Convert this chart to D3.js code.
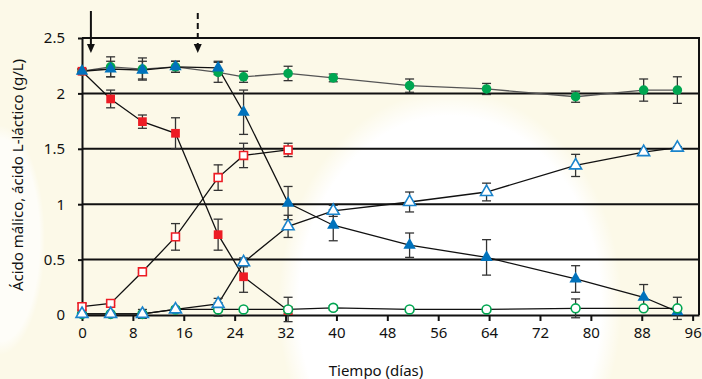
<!DOCTYPE html>
<html>
<head>
<meta charset="utf-8">
<script src="https://cdn.jsdelivr.net/npm/d3@7"></script>
<style>
  html, body { margin: 0; padding: 0; background: #fcf9e8; }
  #chart { width: 702px; height: 379px; }
  text { font-family: "Noto Sans", "DejaVu Sans", sans-serif; fill: #111; }
</style>
</head>
<body>
<div id="chart"></div>
<script>
// sampling days
const days = [0, 4.5, 9.5, 14.7, 21.4, 25.4, 32.4, 39.5, 51.5, 63.6, 77.6, 88.3, 93.6];

// malic / lactic acid (g/L), each with its error
const greenFilled = [2.2, 2.24, 2.22, 2.24, 2.19, 2.15, 2.18, 2.14, 2.07, 2.04, 1.97, 2.03, 2.03];
const greenFilledErr = [0.02, 0.09, 0.1, 0.05, 0.09, 0.05, 0.065, 0.035, 0.06, 0.05, 0.05, 0.1, 0.12];

const blueFilled = [2.2, 2.22, 2.21, 2.24, 2.23, 1.83, 1.01, 0.81, 0.63, 0.52, 0.325, 0.16, 0.03];
const blueFilledErr = [0.02, 0.07, 0.08, 0.05, 0.06, 0.2, 0.15, 0.14, 0.11, 0.16, 0.12, 0.115, 0.02];

const redFilled = [2.2, 1.95, 1.745, 1.64, 0.725, 0.345, 0.04];
const redFilledErr = [0.02, 0.08, 0.06, 0.14, 0.14, 0.14, 0.03];

const redOpen = [0.075, 0.105, 0.39, 0.705, 1.24, 1.44, 1.49];
const redOpenErr = [0.03, 0.02, 0.01, 0.12, 0.115, 0.11, 0.06];

const blueOpen = [0.01, 0.01, 0.01, 0.05, 0.1, 0.475, 0.8, 0.94, 1.02, 1.11, 1.35, 1.47, 1.51];
const blueOpenErr = [0.01, 0.01, 0.04, 0.02, 0.05, 0.04, 0.1, 0.05, 0.09, 0.08, 0.1, 0.02, 0.01];

const greenOpen = [0.01, 0.01, 0.01, 0.05, 0.05, 0.05, 0.05, 0.065, 0.05, 0.05, 0.06, 0.06, 0.06];
const greenOpenErr = [0.01, 0.01, 0.02, 0.02, 0.06, 0.01, 0.11, 0.02, 0.01, 0.01, 0.085, 0.01, 0.1];

// arrows above the plot (days)
const arrowDays = [1.4, 18.2];

const xTicks = [0, 8, 16, 24, 32, 40, 48, 56, 64, 72, 80, 88, 96];
const yTicks = [0, 0.5, 1, 1.5, 2, 2.5];

const width = 702, height = 379;
const plotL = 82, plotR = 699, plotT = 38, plotB = 315;

const svg = d3.select('#chart').append('svg')
  .attr('width', width)
  .attr('height', height);

// background with soft white glow
const defs = svg.append('defs');
const glow = defs.append('radialGradient').attr('id', 'glow');
glow.append('stop').attr('offset', '0%').attr('stop-color', '#fff').attr('stop-opacity', 1);
glow.append('stop').attr('offset', '88%').attr('stop-color', '#fff').attr('stop-opacity', 1);
glow.append('stop').attr('offset', '100%').attr('stop-color', '#fff').attr('stop-opacity', 0);

svg.append('rect').attr('width', width).attr('height', height).attr('fill', '#fcf9e8');
svg.append('ellipse')
  .attr('cx', 450).attr('cy', 305).attr('rx', 172).attr('ry', 215)
  .attr('fill', 'url(#glow)');
svg.append('ellipse')
  .attr('cx', 0).attr('cy', 240).attr('rx', 45).attr('ry', 115)
  .attr('fill', 'url(#glow)').attr('opacity', 0.7);

const x = d3.scaleLinear().domain([0, 97]).range([plotL, plotR]);
const y = d3.scaleLinear().domain([0, 2.5]).range([plotB, plotT]);

// gridlines
svg.append('g').selectAll('line')
  .data(yTicks.filter(d => d > 0))
  .enter().append('line')
  .attr('x1', plotL).attr('x2', plotR)
  .attr('y1', d => y(d)).attr('y2', d => y(d))
  .attr('stroke', '#111').attr('stroke-width', 2);

// right frame
svg.append('line')
  .attr('x1', plotR).attr('x2', plotR).attr('y1', plotT - 1).attr('y2', plotB)
  .attr('stroke', '#111').attr('stroke-width', 2);

const xAxis = svg.append('g')
  .attr('transform', `translate(0, ${plotB})`)
  .call(d3.axisBottom(x).tickValues(xTicks).tickSize(6).tickPadding(6).tickSizeOuter(0));
xAxis.selectAll('text').style('font-size', '15px');

const yAxis = svg.append('g')
  .attr('transform', `translate(${plotL}, 0)`)
  .call(d3.axisLeft(y).tickValues(yTicks).tickFormat(d3.format('')).tickSize(4).tickPadding(13).tickSizeOuter(0));
yAxis.selectAll('text').style('font-size', '15px');

[xAxis, yAxis].forEach(a => {
  a.select('.domain').attr('stroke', '#111').attr('stroke-width', 2);
  a.selectAll('.tick line').attr('stroke', '#111').attr('stroke-width', 2);
});

svg.append('text')
  .attr('x', 376)
  .attr('y', 376)
  .attr('text-anchor', 'middle')
  .style('font-size', '15px')
  .text('Tiempo (días)');

svg.append('text')
  .attr('transform', `translate(23, 175) rotate(-90)`)
  .attr('text-anchor', 'middle')
  .style('font-size', '15px')
  .text('Ácido málico, ácido L-láctico (g/L)');

// arrows
arrowDays.forEach((d, i) => {
  const ax = x(d);
  svg.append('line')
    .attr('x1', ax).attr('x2', ax)
    .attr('y1', i === 0 ? 11 : 13).attr('y2', 46)
    .attr('stroke', '#111').attr('stroke-width', 2)
    .attr('stroke-dasharray', i === 0 ? null : '6,4');
  svg.append('path')
    .attr('d', `M${ax - 4},44 L${ax + 4},44 L${ax},53 Z`)
    .attr('fill', '#111');
});

const series = [
  { vals: greenFilled, err: greenFilledErr, sym: d3.symbolCircle, size: 72, fill: '#00a651', stroke: 'none', lc: '#555' },
  { vals: redFilled, err: redFilledErr, sym: d3.symbolSquare, size: 76, fill: '#ed1c24', stroke: 'none', lc: '#111' },
  { vals: blueFilled, err: blueFilledErr, sym: d3.symbolTriangle, size: 66, fill: '#0072bc', stroke: 'none', lc: '#111' },
  { vals: greenOpen, err: greenOpenErr, sym: d3.symbolCircle, size: 62, fill: '#fff', stroke: '#00a651', lc: '#111' },
  { vals: redOpen, err: redOpenErr, sym: d3.symbolSquare, size: 62, fill: '#fff', stroke: '#ed1c24', lc: '#111' },
  { vals: blueOpen, err: blueOpenErr, sym: d3.symbolTriangle, size: 62, fill: '#fff', stroke: '#1a84cc', lc: '#111' }
];

const line = d3.line().x(d => x(d.t)).y(d => y(d.v));

series.forEach(s => {
  s.pts = s.vals.map((v, i) => ({ t: days[i], v: v, e: s.err[i] }));
});

// connecting lines
series.forEach(s => {
  svg.append('path')
    .datum(s.pts)
    .attr('d', line)
    .attr('fill', 'none')
    .attr('stroke', s.lc)
    .attr('stroke-width', 1.3);
});

// error bars
series.forEach(s => {
  const g = svg.append('g').attr('stroke', '#333').attr('stroke-width', 1.3);
  s.pts.forEach(p => {
    const cx = x(p.t);
    const y1 = y(p.v + p.e), y2 = y(p.v - p.e);
    g.append('line').attr('x1', cx).attr('x2', cx).attr('y1', y1).attr('y2', y2);
    g.append('line').attr('x1', cx - 4.5).attr('x2', cx + 4.5).attr('y1', y1).attr('y2', y1);
    g.append('line').attr('x1', cx - 4.5).attr('x2', cx + 4.5).attr('y1', y2).attr('y2', y2);
  });
});

// markers
series.forEach(s => {
  svg.append('g').selectAll('path')
    .data(s.pts)
    .enter().append('path')
    .attr('d', d3.symbol().type(s.sym).size(s.size))
    .attr('transform', d => `translate(${x(d.t)}, ${y(d.v)})`)
    .attr('fill', s.fill)
    .attr('stroke', s.stroke)
    .attr('stroke-width', s.stroke === 'none' ? 0 : 1.6);
});
</script>
</body>
</html>
